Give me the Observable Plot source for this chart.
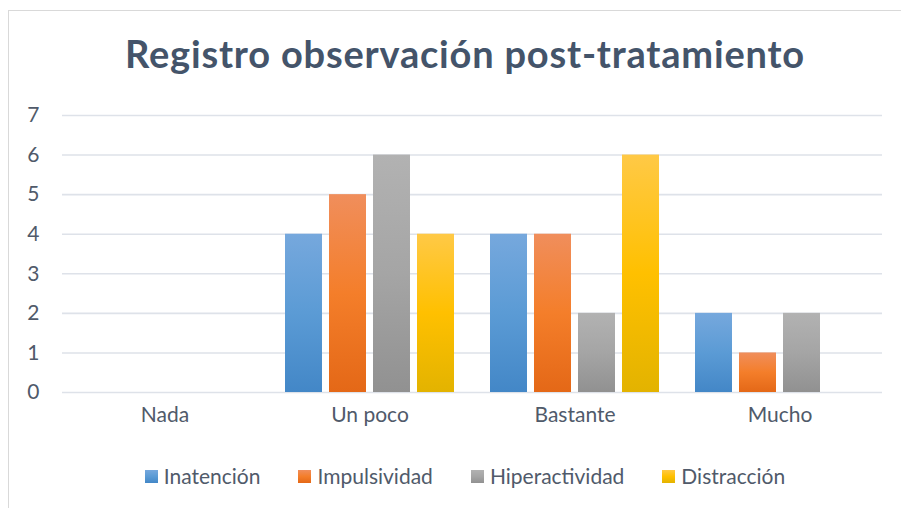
<!DOCTYPE html>
<html><head><meta charset="utf-8">
<script src="https://cdn.jsdelivr.net/npm/d3@7"></script>
<script src="https://cdn.jsdelivr.net/npm/@observablehq/plot@0.6"></script>
<style>
body{margin:0;background:#fff;width:901px;height:508px;overflow:hidden;position:relative;font-family:Lato,sans-serif}
#frame{position:absolute;left:8px;top:10px;width:912px;height:520px;border:1px solid #D9D9D9;box-sizing:border-box}
#title{position:absolute;left:8px;width:914px;top:31px;text-align:center;font-weight:bold;font-size:38px;letter-spacing:0.8px;line-height:44px;color:#44546A;white-space:nowrap}
#chart{position:absolute;left:0;top:100px}
#legend{position:absolute;left:8px;width:914px;top:464px;display:flex;justify-content:center;font-size:21px;line-height:24px;color:#505A6A;white-space:nowrap}
.item{display:flex;align-items:center;margin:0 19px}
.sw{width:13px;height:13px;margin-right:6px}
</style>
</head><body>
<div id="frame"></div>
<div id="title">Registro observación post-tratamiento</div>
<div id="chart"></div>
<div id="legend"></div>
<script>
const categories = ["Nada", "Un poco", "Bastante", "Mucho"];
const series = ["Inatención", "Impulsividad", "Hiperactividad", "Distracción"];
const inatencion = [0, 4, 4, 2];
const impulsividad = [0, 5, 4, 1];
const hiperactividad = [0, 6, 2, 2];
const distraccion = [0, 4, 6, 0];
const yTicks = [0, 1, 2, 3, 4, 5, 6, 7];

const values = [inatencion, impulsividad, hiperactividad, distraccion];
const gradients = [
  ["#76A8DD", "#5B9BD5", "#4387C7"],
  ["#F08E5C", "#F47E2A", "#E46817"],
  ["#B2B2B2", "#A5A5A5", "#919191"],
  ["#FFC946", "#FFC000", "#E3B300"]
];
const gradIds = series.map((s, i) => "grad" + i);

const data = [];
categories.forEach((c, ci) => series.forEach((s, si) => data.push({category: c, series: s, value: values[si][ci]})));

const chart = Plot.plot({
  width: 901,
  height: 345,
  marginLeft: 61,
  marginRight: 19,
  marginTop: 15,
  marginBottom: 53,
  style: {fontFamily: "Lato, sans-serif", fontSize: "21px", color: "#505A6A", background: "transparent"},
  fx: {domain: categories, padding: 0, label: null, axis: "bottom", tickSize: 0, tickPadding: 15},
  x: {domain: series, paddingInner: 0.17, paddingOuter: 0.39, axis: null},
  y: {domain: [0, 7], ticks: yTicks, tickFormat: "d", label: null, tickSize: 0, tickPadding: 23},
  color: {type: "ordinal", domain: series, range: gradIds.map(id => `url(#${id})`)},
  marks: [
    Plot.gridY(yTicks, {stroke: "#DEE2E9", strokeOpacity: 1, strokeWidth: 1.6}),
    Plot.barY(data, {fx: "category", x: "series", y: "value", fill: "series"})
  ]
});

const defs = document.createElementNS("http://www.w3.org/2000/svg", "defs");
defs.innerHTML = gradients.map((g, i) =>
  `<linearGradient id="${gradIds[i]}" x1="0" y1="0" x2="0" y2="1">
     <stop offset="0" stop-color="${g[0]}"/><stop offset="0.5" stop-color="${g[1]}"/><stop offset="1" stop-color="${g[2]}"/>
   </linearGradient>`).join("");
chart.insertBefore(defs, chart.firstChild);
document.getElementById("chart").appendChild(chart);

const legend = document.getElementById("legend");
series.forEach((s, i) => {
  const item = document.createElement("div");
  item.className = "item";
  const sw = document.createElement("div");
  sw.className = "sw";
  sw.style.background = `linear-gradient(${gradients[i][0]}, ${gradients[i][1]}, ${gradients[i][2]})`;
  const t = document.createElement("span");
  t.textContent = s;
  item.appendChild(sw); item.appendChild(t);
  legend.appendChild(item);
});
</script>
</body></html>
